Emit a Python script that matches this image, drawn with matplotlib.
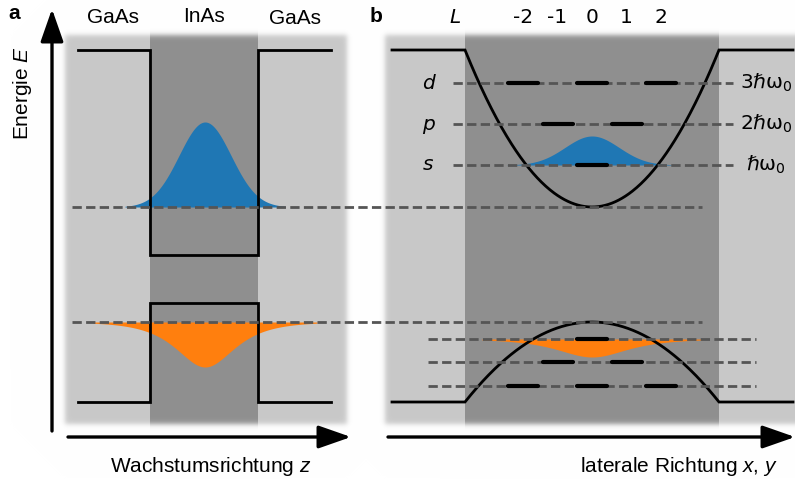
import numpy as np
import matplotlib

matplotlib.use("Agg")

import matplotlib.pyplot as plt

plt.rcParams["font.family"] = ["Liberation Sans", "DejaVu Sans"]
plt.rcParams["mathtext.fontset"] = "custom"
plt.rcParams["mathtext.rm"] = "Liberation Sans"
plt.rcParams["mathtext.it"] = "Liberation Sans:italic"
plt.rcParams["mathtext.bf"] = "Liberation Sans:bold"

W, H = 795, 479

# --- panel a: quantum well along the growth direction --------------------
LAYER_LABELS = ["GaAs", "InAs", "GaAs"]
LAYER_LABEL_X = [113, 204, 295]
LAYER_LABEL_Y = [23, 22, 24]
WELL_EDGES = [150, 258]
BAND_SPAN = [78, 331]
CB_BARRIER, CB_WELL = 50, 255
VB_BARRIER, VB_WELL = 402, 303
E_GROUND = 207
H_GROUND = 322
WELL_CENTER = 205

# --- panel b: lateral harmonic confinement -------------------------------
DOT_EDGES = [465, 719]
DOT_CENTER = 592
DOT_SPAN = [392, 793]
LEVEL_NAMES = ["s", "p", "d"]
LEVEL_ENERGY_LABELS = [r"ℏω$_0$", r"2ℏω$_0$", r"3ℏω$_0$"]
E_LEVELS = [165, 124, 83]
H_LEVELS = [339, 362, 386]
M_TICKS = [-2, -1, 0, 1, 2]
M_STATES = [[0], [-1, 1], [-2, 0, 2]]
M_PITCH = 34.5

# wavefunction shapes: baseline, amplitude (px, negative = downward), width
WF_WELL_E = (E_GROUND, 85, 26)
WF_WELL_H = (H_GROUND, -45, 26)
WF_DOT_E = (E_LEVELS[0], 29, 27)
WF_DOT_H = (H_LEVELS[0], -18, 31)

LIGHT = np.array([200, 200, 200]) / 255
DARK = np.array([143, 143, 143]) / 255
DASH = "#555555"
DV = "DejaVu Sans"


def soft_box(x0, x1, y0, y1, soft=3.0):
    xx = np.arange(W) + 0.5
    yy = np.arange(H) + 0.5
    sx = 0.5 * (np.tanh((xx - x0) / soft) - np.tanh((xx - x1) / soft))
    sy = 0.5 * (np.tanh((yy - y0) / soft) - np.tanh((yy - y1) / soft))
    return np.outer(sy, sx)


def background():
    img = np.ones((H, W, 3))
    xx = np.arange(W) + 0.5
    for (x0, x1), (d0, d1) in [((65, 347), WELL_EDGES), ((385, 830), DOT_EDGES)]:
        alpha = soft_box(x0, x1, 35, 424)[..., None]
        col = np.tile(LIGHT, (H, W, 1))
        col[:, (xx >= d0) & (xx < d1)] = DARK
        img = img * (1 - alpha) + col * alpha
    return img


fig = plt.figure(figsize=(W / 100, H / 100), dpi=100)
ax = fig.add_axes([0, 0, 1, 1])
ax.set_xlim(0, W)
ax.set_ylim(H, 0)
ax.axis("off")
ax.imshow(background(), extent=(0, W, H, 0), zorder=0, interpolation="bilinear")

band_kw = dict(color="k", lw=2.0, zorder=2, solid_joinstyle="miter")
dash_kw = dict(color=DASH, lw=2.0, dashes=(3.35, 1.55), zorder=3)
seg_kw = dict(color="k", lw=3.0, solid_capstyle="round", zorder=4)

# quantum well band edges
x0, x1 = WELL_EDGES
ax.plot([BAND_SPAN[0], x0, x0, x1, x1, BAND_SPAN[1]],
        [CB_BARRIER, CB_BARRIER, CB_WELL, CB_WELL, CB_BARRIER, CB_BARRIER], **band_kw)
ax.plot([BAND_SPAN[0], x0, x0, x1, x1, BAND_SPAN[1]],
        [VB_BARRIER, VB_BARRIER, VB_WELL, VB_WELL, VB_BARRIER, VB_BARRIER], **band_kw)


def gauss(x, c, base, amp, w):
    return base - amp * np.exp(-((x - c) ** 2) / (2 * w ** 2))


def sech(x, c, base, amp, w):
    return base - amp / np.cosh((x - c) / w)


z = np.linspace(WELL_CENTER - 80, WELL_CENTER + 80, 300)
ax.fill_between(z, WF_WELL_E[0], gauss(z, WELL_CENTER, *WF_WELL_E), color="#1f77b4", lw=0, zorder=1)
z = np.linspace(WELL_CENTER - 112, WELL_CENTER + 112, 400)
ax.fill_between(z, WF_WELL_H[0], sech(z, WELL_CENTER, *WF_WELL_H), color="#ff7f0e", lw=0, zorder=1)

# ground states continue into the dot
ax.plot([72, 702], [E_GROUND, E_GROUND], **dash_kw)
ax.plot([72, 702], [H_GROUND, H_GROUND], **dash_kw)

# harmonic confinement in the dot
half = (DOT_EDGES[1] - DOT_EDGES[0]) / 2
xs = np.linspace(DOT_EDGES[0], DOT_EDGES[1], 300)
u = ((xs - DOT_CENTER) / half) ** 2
ax.plot(np.r_[DOT_SPAN[0], xs, DOT_SPAN[1]],
        np.r_[CB_BARRIER, E_GROUND - (E_GROUND - CB_BARRIER) * u, CB_BARRIER], **band_kw)
ax.plot(np.r_[DOT_SPAN[0], xs, DOT_SPAN[1]],
        np.r_[VB_BARRIER, H_GROUND + (VB_BARRIER - H_GROUND) * u, VB_BARRIER], **band_kw)

x = np.linspace(DOT_CENTER - 85, DOT_CENTER + 85, 300)
ax.fill_between(x, WF_DOT_E[0], gauss(x, DOT_CENTER, *WF_DOT_E), color="#1f77b4", lw=0, zorder=1)
x = np.linspace(DOT_CENTER - 110, DOT_CENTER + 110, 300)
ax.fill_between(x, WF_DOT_H[0], sech(x, DOT_CENTER, *WF_DOT_H), color="#ff7f0e", lw=0, zorder=1)

for e, h, ms, name, lab in zip(E_LEVELS, H_LEVELS, M_STATES, LEVEL_NAMES, LEVEL_ENERGY_LABELS):
    ax.plot([453, 733], [e, e], **dash_kw)
    ax.plot([428, 756], [h, h], **dash_kw)
    for m in ms:
        xc = DOT_CENTER + m * M_PITCH
        ax.plot([xc - 15, xc + 15], [e, e], **seg_kw)
        ax.plot([xc - 15, xc + 15], [h, h], **seg_kw)
    ax.text(428, e, name, fontsize=14.5, family=DV, style="italic", ha="center", va="center")
    ax.text(766, e, lab, fontsize=14.5, family=DV, math_fontfamily="dejavusans",
            ha="center", va="center")

for m in M_TICKS:
    ax.text(DOT_CENTER + m * M_PITCH, 23, f"{m}", fontsize=14.5, family=DV, ha="center", va="baseline")
ax.text(455, 23, "L", fontsize=14.5, family=DV, style="italic", ha="center", va="baseline")

# axes arrows
arrow = dict(arrowstyle="-|>,head_length=1.0,head_width=0.35", color="k", lw=2.4,
             shrinkA=0, shrinkB=0, mutation_scale=20)
ax.annotate("", xy=(52, 9), xytext=(52, 431), arrowprops=arrow)
ax.annotate("", xy=(351, 437), xytext=(68, 437), arrowprops=arrow)
ax.annotate("", xy=(795, 437), xytext=(388, 437), arrowprops=arrow)

for lab, lx, ly in zip(LAYER_LABELS, LAYER_LABEL_X, LAYER_LABEL_Y):
    ax.text(lx, ly, lab, fontsize=15, ha="center", va="baseline")

ax.text(14.5, 18.5, "a", fontsize=15, fontweight="bold", ha="center", va="baseline")
ax.text(376, 21.7, "b", fontsize=15, fontweight="bold", ha="center", va="baseline")
ax.text(28, 93, r"Energie $E$", fontsize=15, rotation=90, rotation_mode="anchor",
        ha="center", va="baseline")
ax.text(211, 472, r"Wachstumsrichtung $z$", fontsize=15, ha="center", va="baseline")
ax.text(679, 472, r"laterale Richtung $x$, $y$", fontsize=15, ha="center", va="baseline")

fig.savefig("out.png", dpi=100)
